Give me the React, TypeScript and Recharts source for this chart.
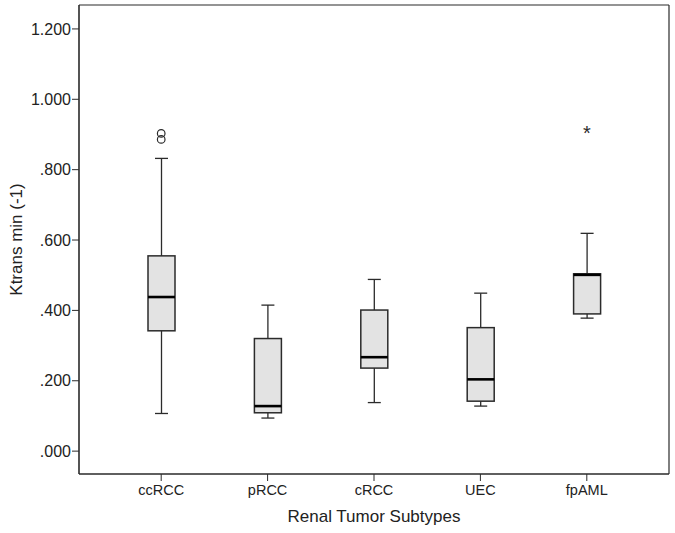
import React from 'react';
import { ComposedChart, Bar, Line, XAxis, YAxis, CartesianGrid } from 'recharts';

// values (Ktrans min^-1)
const categories = ['ccRCC', 'pRCC', 'cRCC', 'UEC', 'fpAML'];
const whiskerLow = [0.107, 0.094, 0.138, 0.128, 0.378];
const q1 = [0.342, 0.109, 0.236, 0.142, 0.39];
const median = [0.438, 0.128, 0.267, 0.204, 0.501];
const q3 = [0.555, 0.32, 0.401, 0.351, 0.504];
const whiskerHigh = [0.832, 0.415, 0.488, 0.449, 0.619];
const outlierA = [0.903, null, null, null, null];
const outlierB = [0.886, null, null, null, null];
const extremes = [null, null, null, null, 0.908];
const yTicks = [0, 0.2, 0.4, 0.6, 0.8, 1.0, 1.2];

const chartData = categories.map((name, i) => ({
  name,
  lo: whiskerLow[i],
  q1: q1[i],
  med: median[i],
  q3: q3[i],
  hi: whiskerHigh[i],
  outA: outlierA[i],
  outB: outlierB[i],
  ext: extremes[i],
}));

const INK = '#2b2b2b';
const FONT = '"Liberation Sans", Arial, Helvetica, sans-serif';

// whole box (whiskers, box, median) drawn inside the range bar [lo, hi]
const BoxShape = (props: any) => {
  const { x, y, width, height, payload } = props;
  if (x == null || y == null) return <g />;
  const top = Math.min(y, y + height);
  const h = Math.abs(height);
  const { lo, hi } = payload;
  const py = (v: number) => top + (h * (hi - v)) / (hi - lo);
  const cx = x + width / 2;
  const cap = 6.5;
  return (
    <g>
      <line x1={cx} x2={cx} y1={py(hi)} y2={py(lo)} stroke={INK} strokeWidth={1.3} />
      <line x1={cx - cap} x2={cx + cap} y1={py(hi)} y2={py(hi)} stroke={INK} strokeWidth={1.3} />
      <line x1={cx - cap} x2={cx + cap} y1={py(lo)} y2={py(lo)} stroke={INK} strokeWidth={1.3} />
      <rect
        x={x}
        y={py(payload.q3)}
        width={width}
        height={py(payload.q1) - py(payload.q3)}
        fill="#e3e3e3"
        stroke={INK}
        strokeWidth={1.5}
      />
      <line x1={x} x2={x + width} y1={py(payload.med)} y2={py(payload.med)} stroke="#000" strokeWidth={2.6} />
    </g>
  );
};

const CircleDot = (props: any) => {
  const { cx, cy, value } = props;
  if (cx == null || cy == null || value == null) return <g key={props.key} />;
  return <circle key={props.key} cx={cx} cy={cy} r={3.8} fill="none" stroke={INK} strokeWidth={1.2} />;
};

const StarDot = (props: any) => {
  const { cx, cy, value } = props;
  if (cx == null || cy == null || value == null) return <g key={props.key} />;
  return (
    <text key={props.key} x={cx} y={cy + 8} textAnchor="middle" fontSize={20} fontFamily={FONT} fill={INK}>
      *
    </text>
  );
};

const fmt = (v: number) => v.toFixed(3).replace(/^0/, '');

const YTitle = (props: any) => {
  const vb = props.viewBox || {};
  const cx = (vb.x || 0) + 16;
  const cy = (vb.y || 0) + (vb.height || 0) / 2;
  return (
    <text
      x={cx}
      y={cy}
      transform={`rotate(-90, ${cx}, ${cy})`}
      textAnchor="middle"
      dominantBaseline="central"
      fontSize={17}
      fontFamily={FONT}
      fill="#222"
    >
      Ktrans min (-1)
    </text>
  );
};

const XTitle = (props: any) => {
  const vb = props.viewBox || {};
  return (
    <text
      x={(vb.x || 0) + (vb.width || 0) / 2}
      y={(vb.y || 0) + 42}
      textAnchor="middle"
      dominantBaseline="central"
      fontSize={17}
      fontFamily={FONT}
      fill="#222"
    >
      Renal Tumor Subtypes
    </text>
  );
};

// plot frame: grid lines only at the edges of the plot area
const frameRows = ({ offset }: any) => [offset.top, offset.top + offset.height];
const frameCols = ({ offset }: any) => [offset.left, offset.left + offset.width];

export default function App() {
  return (
    <div style={{ position: 'absolute', left: 0, top: 0, width: 675, height: 533, background: '#fff' }}>
      <ComposedChart
        width={675}
        height={533}
        data={chartData}
        margin={{ top: 5, right: 6, bottom: 0, left: 0 }}
      >
        <CartesianGrid
          stroke={INK}
          strokeWidth={1.2}
          horizontalCoordinatesGenerator={frameRows}
          verticalCoordinatesGenerator={frameCols}
          xAxisId="main"
          yAxisId="main"
        />
        <XAxis
          dataKey="name"
          xAxisId="main"
          height={59}
          padding={{ left: 29, right: 29 }}
          stroke={INK}
          tickSize={7}
          tickMargin={4}
          tick={{ fontSize: 14.5, fontFamily: FONT, fill: '#222' }}
          label={<XTitle />}
        />
        <YAxis
          yAxisId="main"
          type="number"
          domain={[-0.065, 1.268]}
          ticks={yTicks}
          allowDataOverflow
          width={79}
          stroke={INK}
          tickSize={7}
          tickMargin={1}
          tickFormatter={fmt}
          tick={{ fontSize: 16, fontFamily: FONT, fill: '#222' }}
          label={<YTitle />}
        />
        <Bar
          xAxisId="main"
          yAxisId="main"
          dataKey={(d: any) => [d.lo, d.hi]}
          barSize={27}
          shape={<BoxShape />}
          isAnimationActive={false}
        />
        <Line xAxisId="main" yAxisId="main" dataKey="outA" stroke="none" dot={CircleDot} activeDot={false} isAnimationActive={false} />
        <Line xAxisId="main" yAxisId="main" dataKey="outB" stroke="none" dot={CircleDot} activeDot={false} isAnimationActive={false} />
        <Line xAxisId="main" yAxisId="main" dataKey="ext" stroke="none" dot={StarDot} activeDot={false} isAnimationActive={false} />
      </ComposedChart>
    </div>
  );
}
